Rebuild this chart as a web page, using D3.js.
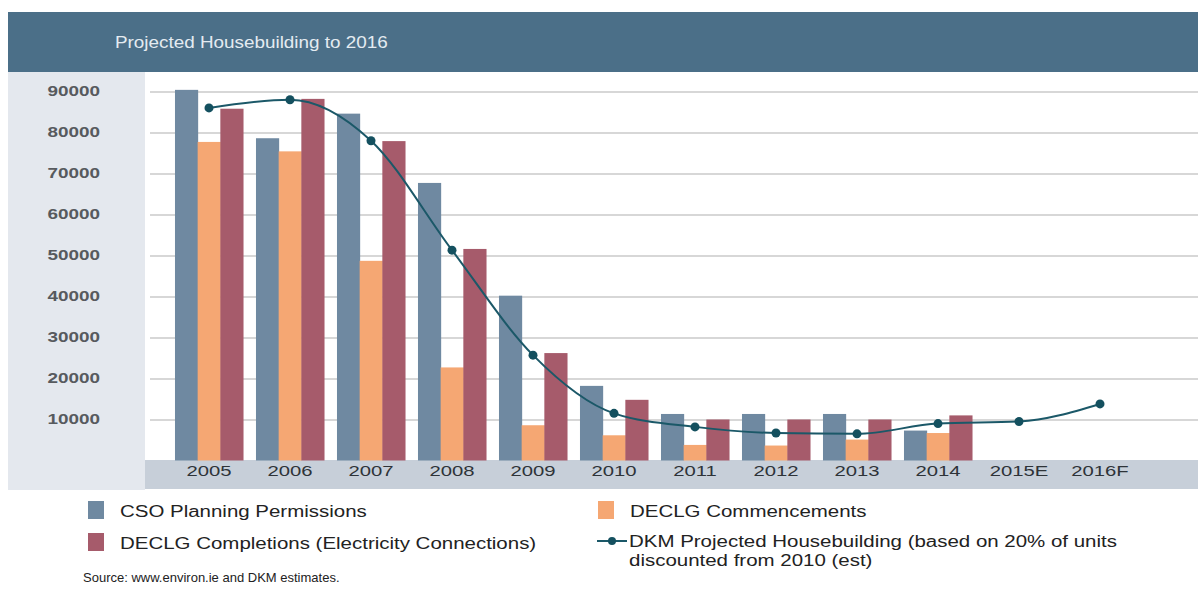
<!DOCTYPE html>
<html>
<head>
<meta charset="utf-8">
<script src="https://cdn.jsdelivr.net/npm/d3@7"></script>
<style>
  body { margin: 0; background: #fff; }
  text { font-family: "Liberation Sans", Arial, sans-serif; }
</style>
</head>
<body>
<div id="chart-area"></div>
<script>
// data
var categories = ["2005", "2006", "2007", "2008", "2009", "2010", "2011", "2012", "2013", "2014", "2015E", "2016F"];
var csoPermissions = [90400, 78600, 84600, 67700, 40200, 18200, 11350, 11350, 11350, 7300, null, null];
var declgCommencements = [77700, 75400, 48700, 22700, 8600, 6150, 3800, 3650, 5100, 6700, null, null];
var declgCompletions = [85800, 88200, 77900, 51600, 26200, 14800, 10000, 10000, 10000, 11000, null, null];
var dkmProjected = [86000, 88000, 78000, 51300, 25700, 11500, 8200, 6700, 6500, 9000, 9500, 13800];
var yTicks = [10000, 20000, 30000, 40000, 50000, 60000, 70000, 80000, 90000];

var seriesNames = ["CSO Planning Permissions", "DECLG Commencements", "DECLG Completions (Electricity Connections)"];
var barSeries = [csoPermissions, declgCommencements, declgCompletions];
var barColors = ["#6f89a1", "#f5a773", "#a65b6b"];
var lineColor = "#1b5868";

var width = 1198, height = 595;

var svg = d3.select("#chart-area")
    .append("svg")
    .attr("width", width)
    .attr("height", height);

// header and panels
svg.append("rect").attr("x", 8).attr("y", 12).attr("width", width - 8).attr("height", 60).attr("fill", "#4b6f88");
svg.append("text")
    .attr("transform", "translate(115,48) scale(1.18,1)")
    .attr("font-size", "16px")
    .attr("fill", "#e4ebf1")
    .text("Projected Housebuilding to 2016");

svg.append("rect").attr("x", 8).attr("y", 72).attr("width", 137).attr("height", 418).attr("fill", "#e4e8ee");
svg.append("rect").attr("x", 145).attr("y", 460).attr("width", width - 145).attr("height", 29).attr("fill", "#c7cfd9");

var x = d3.scaleBand().domain(categories).range([168.5, 1140.5]).paddingInner(0.16).paddingOuter(0.08);
var xs = d3.scaleBand().domain(d3.range(barSeries.length)).range([0, x.bandwidth()]);
var y = d3.scaleLinear().domain([0, 90000]).range([460.5, 91.5]);

// grid
svg.append("g")
    .attr("transform", "translate(150,0)")
    .call(d3.axisLeft(y).tickValues(yTicks).tickSize(-(width - 150)).tickFormat(""))
    .call(function(g) { g.select(".domain").remove(); })
    .selectAll("line")
    .attr("stroke", "#cacaca")
    .attr("stroke-width", 1.5);

// y labels
svg.append("g")
    .attr("transform", "translate(100,0)")
    .call(d3.axisLeft(y).tickValues(yTicks).tickSize(0).tickPadding(0).tickFormat(d3.format("d")))
    .call(function(g) { g.select(".domain").remove(); })
    .selectAll("text")
    .attr("font-size", "14px")
    .attr("font-weight", "bold")
    .attr("fill", "#575a5e")
    .attr("font-family", "Liberation Sans, Arial, sans-serif")
    .attr("transform", "scale(1.35,1)");

// bars
barSeries.forEach(function(series, i) {
    svg.append("g")
        .selectAll("rect")
        .data(categories.map(function(c, j) { return {cat: c, v: series[j]}; }).filter(function(d) { return d.v != null; }))
        .enter()
        .append("rect")
        .attr("x", function(d) { return x(d.cat) + xs(i); })
        .attr("width", xs.bandwidth() + 0.5)
        .attr("y", function(d) { return y(d.v); })
        .attr("height", function(d) { return y(0) - y(d.v); })
        .attr("fill", barColors[i]);
});

// x labels
svg.append("g")
    .attr("transform", "translate(0,466)")
    .call(d3.axisBottom(x).tickSize(0).tickPadding(0))
    .call(function(g) { g.select(".domain").remove(); })
    .selectAll("text")
    .attr("font-size", "14px")
    .attr("fill", "#2e3338")
    .attr("font-family", "Liberation Sans, Arial, sans-serif")
    .attr("transform", "scale(1.45,1)");

// projected line
var lineData = categories.map(function(c, j) { return {cat: c, v: dkmProjected[j]}; });
var line = d3.line()
    .x(function(d) { return x(d.cat) + x.bandwidth() / 2; })
    .y(function(d) { return y(d.v); })
    .curve(d3.curveMonotoneX);

svg.append("path")
    .datum(lineData)
    .attr("d", line)
    .attr("fill", "none")
    .attr("stroke", lineColor)
    .attr("stroke-width", 2);

svg.append("g")
    .selectAll("circle")
    .data(lineData)
    .enter()
    .append("circle")
    .attr("cx", function(d) { return x(d.cat) + x.bandwidth() / 2; })
    .attr("cy", function(d) { return y(d.v); })
    .attr("r", 4.5)
    .attr("fill", "#14505f");

// legend
var legendScale = "scale(1.28,1)";
var legend = svg.append("g");
var legendItems = [
    {name: seriesNames[0], color: barColors[0], x: 88, y: 501},
    {name: seriesNames[2], color: barColors[2], x: 88, y: 533},
    {name: seriesNames[1], color: barColors[1], x: 598, y: 501}
];
legendItems.forEach(function(d) {
    legend.append("rect").attr("x", d.x).attr("y", d.y).attr("width", 16).attr("height", 18).attr("fill", d.color);
    legend.append("text")
        .attr("transform", "translate(" + (d.x + 32) + "," + (d.y + 16) + ") " + legendScale)
        .attr("font-size", "16px")
        .attr("fill", "#222")
        .text(d.name);
});

legend.append("line").attr("x1", 597).attr("x2", 627).attr("y1", 541).attr("y2", 541).attr("stroke", lineColor).attr("stroke-width", 2);
legend.append("circle").attr("cx", 612).attr("cy", 541).attr("r", 4).attr("fill", "#14505f");
legend.append("text")
    .attr("transform", "translate(629,547) " + legendScale)
    .attr("font-size", "16px")
    .attr("fill", "#222")
    .text("DKM Projected Housebuilding (based on 20% of units");
legend.append("text")
    .attr("transform", "translate(629,566) " + legendScale)
    .attr("font-size", "16px")
    .attr("fill", "#222")
    .text("discounted from 2010 (est)");

svg.append("text")
    .attr("transform", "translate(83,582)")
    .attr("font-size", "13px")
    .attr("fill", "#222")
    .text("Source: www.environ.ie and DKM estimates.");
</script>
</body>
</html>
